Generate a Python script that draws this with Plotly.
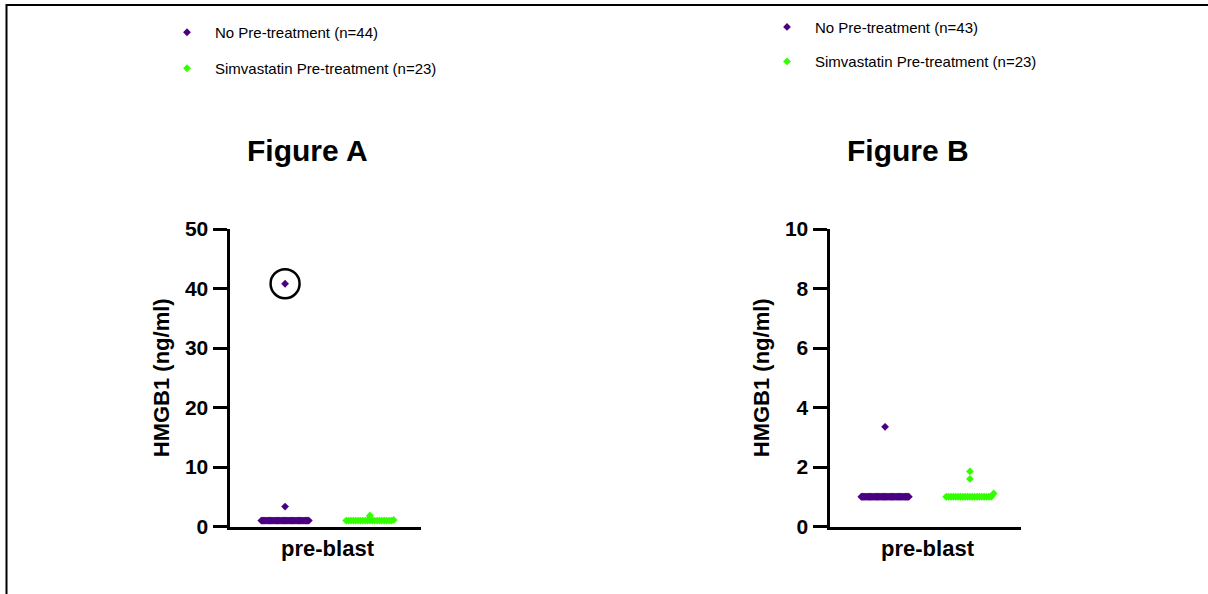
import plotly.graph_objects as go

# ---------------- data ----------------
category = "pre-blast"
legend_a = ["No Pre-treatment (n=44)", "Simvastatin Pre-treatment (n=23)"]
legend_b = ["No Pre-treatment (n=43)", "Simvastatin Pre-treatment (n=23)"]

a_no_pre = [1.0, 1.0, 1.0, 1.0, 1.0, 1.0, 1.0, 1.0, 1.0, 1.0,
            1.0, 1.0, 1.0, 1.0, 1.0, 1.0, 1.0, 1.0, 1.0, 1.0,
            1.0, 1.0, 1.0, 1.0, 1.0, 1.0, 1.0, 1.0, 1.0, 1.0,
            1.0, 1.0, 1.0, 1.0, 1.0, 1.0, 1.0, 1.0, 1.0, 1.0,
            1.0, 1.0, 3.35, 40.8]
a_simva = [1.0, 1.0, 1.0, 1.0, 1.0, 1.0, 1.0, 1.0, 1.0, 1.0,
           1.0, 1.0, 1.0, 1.0, 1.0, 1.0, 1.0, 1.0, 1.0, 1.0,
           1.11, 1.6, 1.85]
b_no_pre = [1.0, 1.0, 1.0, 1.0, 1.0, 1.0, 1.0, 1.0, 1.0, 1.0,
            1.0, 1.0, 1.0, 1.0, 1.0, 1.0, 1.0, 1.0, 1.0, 1.0,
            1.0, 1.0, 1.0, 1.0, 1.0, 1.0, 1.0, 1.0, 1.0, 1.0,
            1.0, 1.0, 1.0, 1.0, 1.0, 1.0, 1.0, 1.0, 1.0, 1.0,
            1.0, 1.0, 3.35]
b_simva = [1.0, 1.0, 1.0, 1.0, 1.0, 1.0, 1.0, 1.0, 1.0, 1.0,
           1.0, 1.0, 1.0, 1.0, 1.0, 1.0, 1.0, 1.0, 1.0, 1.0,
           1.11, 1.6, 1.85]

y_ticks_a = [0, 10, 20, 30, 40, 50]
y_ticks_b = [0, 2, 4, 6, 8, 10]
circled_value = 40.8
panel_titles = ["Figure A", "Figure B"]
y_title = "HMGB1 (ng/ml)"

# ---------------- style ----------------
PURPLE = "#4B0082"
GREEN = "#33FF00"
FONT = "Arial, Liberation Sans, sans-serif"
W, H = 1208, 594
group_pos = [-0.5, 0.5]


def swarm(values, center, half_width=0.28, tol=0.2):
    """Simple dot-plot layout: the crowded baseline row is spread evenly,
    remaining points sit on the group centre."""
    base = sorted(values)[len(values) // 2]
    row = sorted(v for v in values if abs(v - base) <= tol)
    rest = [v for v in values if abs(v - base) > tol]
    n = len(row)
    xs = [center - half_width + 2 * half_width * i / (n - 1) for i in range(n)]
    return xs + [center] * len(rest), row + rest


fig = go.Figure()

panels = [
    ("x", "y", [a_no_pre, a_simva], legend_a, "legend"),
    ("x2", "y2", [b_no_pre, b_simva], legend_b, "legend2"),
]
colors = [PURPLE, GREEN]
for xa, ya, series, names, leg in panels:
    for i, vals in enumerate(series):
        xs, ys = swarm(vals, group_pos[i])
        fig.add_trace(go.Scatter(
            x=xs, y=ys, mode="markers", xaxis=xa, yaxis=ya,
            name=names[i], legend=leg, legendgroup=f"{leg}_{i}",
            marker=dict(symbol="diamond", size=6, color=colors[i], line=dict(width=0)),
            hoverinfo="y",
        ))

px = lambda v: v / W
py = lambda v: 1 - v / H

ydom = [py(526.5), py(229)]
axis_common = dict(showline=True, linewidth=3, linecolor="black", showgrid=False,
                   zeroline=False, fixedrange=True, mirror=False)
xaxis_style = dict(axis_common, range=[-1.155, 1.102], tickvals=[0], ticktext=[category],
                   ticks="", tickfont=dict(family=FONT, size=22, color="black", weight="bold"))
yaxis_style = dict(axis_common, ticks="outside", ticklen=14, tickwidth=3, tickcolor="black",
                   tickfont=dict(family=FONT, size=21, color="black", weight="bold"),
                   title=dict(text=y_title, standoff=10,
                              font=dict(family=FONT, size=22, color="black", weight="bold")))

fig.update_layout(
    width=W, height=H, margin=dict(l=0, r=0, t=0, b=0, autoexpand=False),
    paper_bgcolor="white", plot_bgcolor="white",
    font=dict(family=FONT, color="black"),
    xaxis=dict(xaxis_style, domain=[px(229.5), px(421)], anchor="y"),
    yaxis=dict(yaxis_style, domain=ydom, range=[0, y_ticks_a[-1]], tickvals=y_ticks_a, anchor="x"),
    xaxis2=dict(xaxis_style, domain=[px(829.5), px(1021)], anchor="y2"),
    yaxis2=dict(yaxis_style, domain=ydom, range=[0, y_ticks_b[-1]], tickvals=y_ticks_b, anchor="x2"),
    legend=dict(x=px(159), xanchor="left", y=py(16), yanchor="top", itemwidth=46,
                font=dict(family=FONT, size=15, color="black"), tracegroupgap=13.5,
                traceorder="grouped", bgcolor="rgba(0,0,0,0)"),
    legend2=dict(x=px(759), xanchor="left", y=py(10.7), yanchor="top", itemwidth=46,
                 font=dict(family=FONT, size=15, color="black"), tracegroupgap=12,
                 traceorder="grouped", bgcolor="rgba(0,0,0,0)"),
    showlegend=True,
)

for title, cx in zip(panel_titles, [307.5, 907.5]):
    fig.add_annotation(text=title, xref="paper", yref="paper", x=px(cx), y=py(150),
                       xanchor="center", yanchor="middle", showarrow=False,
                       font=dict(family=FONT, size=30, color="black", weight="bold"))

# circle marking the outlier in panel A
fig.add_shape(type="circle", xref="x", yref="y", xsizemode="pixel", ysizemode="pixel",
              xanchor=group_pos[0], yanchor=circled_value, x0=-14.5, x1=14.5, y0=-14.5, y1=14.5,
              line=dict(color="black", width=2.5))

# frame lines (top and left)
fig.add_shape(type="line", xref="paper", yref="paper", x0=px(6), x1=px(1230), y0=py(5), y1=py(5),
              line=dict(color="black", width=2))
fig.add_shape(type="line", xref="paper", yref="paper", x0=px(6.5), x1=px(6.5), y0=py(4), y1=py(600),
              line=dict(color="black", width=2))

fig.write_html(
    "out.html", config=dict(displayModeBar=False),
    post_script=("document.body.style.margin='0';"
                 "document.body.style.overflow='hidden';"
                 "document.documentElement.style.overflow='hidden';"),
)
